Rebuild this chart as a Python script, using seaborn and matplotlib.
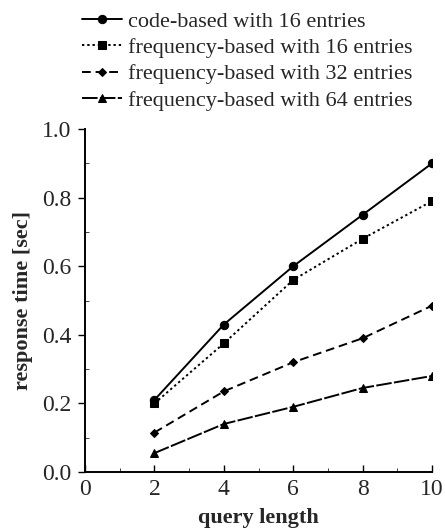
import matplotlib
matplotlib.use("Agg")
import matplotlib.pyplot as plt
from matplotlib.ticker import MultipleLocator
import seaborn as sns
import pandas as pd

query_length = [2, 4, 6, 8, 10]
series_names = [
    "code-based with 16 entries",
    "frequency-based with 16 entries",
    "frequency-based with 32 entries",
    "frequency-based with 64 entries",
]
code_16 = [0.21, 0.43, 0.60, 0.75, 0.90]
freq_16 = [0.20, 0.375, 0.56, 0.68, 0.79]
freq_32 = [0.115, 0.235, 0.32, 0.39, 0.485]
freq_64 = [0.055, 0.14, 0.19, 0.245, 0.28]

rows = []
for name, vals in zip(series_names, [code_16, freq_16, freq_32, freq_64]):
    for x, y in zip(query_length, vals):
        rows.append({"query length": x, "response time [sec]": y, "series": name})
df = pd.DataFrame(rows)

sns.set_style("ticks")
plt.rcParams["font.family"] = ["Liberation Serif", "DejaVu Serif"]

fig = plt.figure(figsize=(4.45, 5.32), dpi=100)
ax = fig.add_axes([0.191, 0.1128, 0.78, 0.6447])

markers = dict(zip(series_names, ["o", "s", "D", "^"]))
dashes = dict(zip(series_names, ["", (1.2, 1.5), (4.5, 2.5), (8, 1.2)]))
palette = dict(zip(series_names, ["black"] * 4))

sns.lineplot(
    data=df, x="query length", y="response time [sec]",
    hue="series", style="series", markers=markers, dashes=dashes,
    palette=palette, ax=ax, linewidth=1.4, markersize=6,
    markeredgecolor="black", legend=True,
)
# the diamond marker reads smaller than the others
for line in ax.get_lines():
    if line.get_marker() == "D":
        line.set_markersize(4.5)

ax.set_xlim(0, 10)
ax.set_ylim(0, 1.0)
ax.xaxis.set_major_locator(MultipleLocator(2))
ax.xaxis.set_minor_locator(MultipleLocator(1))
ax.yaxis.set_minor_locator(MultipleLocator(0.1))
ax.set_yticks([0, 0.2, 0.4, 0.6, 0.8, 1.0])
ax.set_yticklabels(["0.0", "0.2", "0.4", "0.6", "0.8", "1.0"])
ax.tick_params(axis="both", which="major", labelsize=17, length=5, width=1, color="black")
ax.tick_params(axis="x", which="both", direction="in")
ax.tick_params(axis="y", which="major", direction="out", pad=5)
ax.tick_params(axis="y", which="minor", direction="in", length=3)
ax.tick_params(axis="x", which="minor", length=3)
ax.tick_params(axis="x", which="major", pad=5)
for side in ["top", "right"]:
    ax.spines[side].set_visible(False)
for side in ["left", "bottom"]:
    ax.spines[side].set_color("black")
    ax.spines[side].set_linewidth(1.4)

ax.set_xlabel("query length", fontsize=16, fontweight="bold", labelpad=6)
ax.set_ylabel("response time [sec]", fontsize=16, fontweight="bold", labelpad=6)

handles, labels = ax.get_legend_handles_labels()
ax.get_legend().remove()
for h in handles:
    if h.get_marker() == "D":
        h.set_markersize(4.5)
fig.legend(
    handles, labels, loc="upper left", bbox_to_anchor=(0.184, 0.979),
    frameon=False, fontsize=16, handlelength=1.8, handletextpad=0.27,
    labelspacing=0.26, borderpad=0, borderaxespad=0,
)

fig.savefig("out.png", dpi=100)
